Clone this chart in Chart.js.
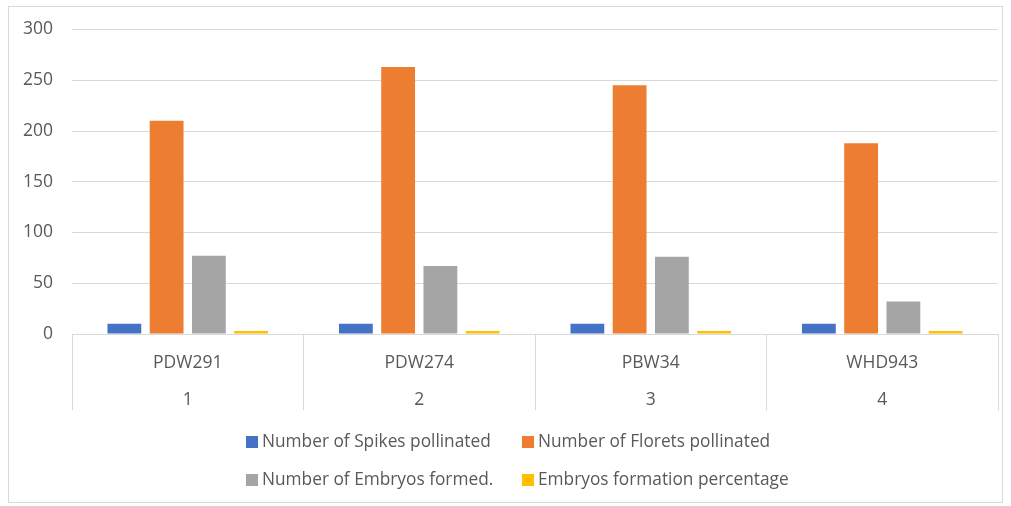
<!DOCTYPE html>
<html>
<head>
<meta charset="utf-8">
<script src="https://cdn.jsdelivr.net/npm/chart.js@4"></script>
<style>
  html, body { margin: 0; padding: 0; background: #fff; }
  #wrap { position: relative; width: 1011px; height: 506px; overflow: hidden; }
  #frame { position: absolute; left: 8px; top: 6px; width: 995px; height: 497px; border: 1px solid #d9d9d9; box-sizing: border-box; }
  canvas { position: absolute; left: 0; top: 0; }
  #legend { position: absolute; left: 0; top: 0; font-family: "Open Sans", "Noto Sans", sans-serif; font-size: 17.3px; color: #595959; }
  .item { position: absolute; white-space: nowrap; line-height: 20px; }
  .box { display: inline-block; width: 12px; height: 12px; margin-right: 4px; vertical-align: -1px; }
</style>
</head>
<body>
<div id="wrap">
  <div id="frame"></div>
  <canvas id="c" width="1011" height="506"></canvas>
  <div id="legend"></div>
</div>
<script>
const categories = [["PDW291", "1"], ["PDW274", "2"], ["PBW34", "3"], ["WHD943", "4"]];
const seriesNames = ["Number of Spikes pollinated", "Number of Florets pollinated", "Number of Embryos formed.", "Embryos formation percentage"];
const spikes = [10, 10, 10, 10];
const florets = [210, 263, 245, 188];
const embryos = [77, 67, 76, 32];
const percentage = [3, 3, 3, 3];
const colors = ["#4472C4", "#ED7D31", "#A5A5A5", "#FFC000"];
const yTicks = [0, 50, 100, 150, 200, 250, 300];

const seriesData = [spikes, florets, embryos, percentage];
const FONT = "'Open Sans', 'Noto Sans', sans-serif";

new Chart(document.getElementById("c"), {
  type: "bar",
  data: {
    labels: categories,
    datasets: seriesData.map((d, i) => ({
      label: seriesNames[i],
      data: d,
      backgroundColor: colors[i],
      borderWidth: 0,
      categoryPercentage: 0.73,
      barPercentage: 0.8
    }))
  },
  options: {
    responsive: false,
    animation: false,
    devicePixelRatio: 1,
    layout: { padding: { left: 8, right: 13, top: 27, bottom: 96 } },
    plugins: { legend: { display: false }, tooltip: { enabled: false } },
    scales: {
      x: {
        offset: true,
        grid: { offset: true, drawOnChartArea: false, drawTicks: true, tickLength: 76, color: "#d9d9d9", lineWidth: 1 },
        border: { display: true, color: "#d9d9d9" },
        ticks: { color: "#595959", font: { family: FONT, size: 17.5, lineHeight: 2.1 }, padding: -65, maxRotation: 0, autoSkip: false },
        afterFit: s => { s.height = 76; }
      },
      y: {
        min: 0, max: 300,
        afterBuildTicks: s => { s.ticks = yTicks.map(v => ({ value: v })); },
        grid: { color: "#d9d9d9", drawTicks: false, lineWidth: 1 },
        border: { display: false },
        ticks: { color: "#595959", font: { family: FONT, size: 17.5 }, padding: 19 },
        afterFit: s => { s.width = 64; }
      }
    }
  }
});

// Legend (two rows, two aligned columns)
const legend = document.getElementById("legend");
const pos = [[246, 431], [522, 431], [246, 469], [522, 469]];
seriesNames.forEach((n, i) => {
  const el = document.createElement("div");
  el.className = "item";
  el.style.left = pos[i][0] + "px";
  el.style.top = pos[i][1] + "px";
  const b = document.createElement("span");
  b.className = "box";
  b.style.background = colors[i];
  el.appendChild(b);
  el.appendChild(document.createTextNode(n));
  legend.appendChild(el);
});
</script>
</body>
</html>
